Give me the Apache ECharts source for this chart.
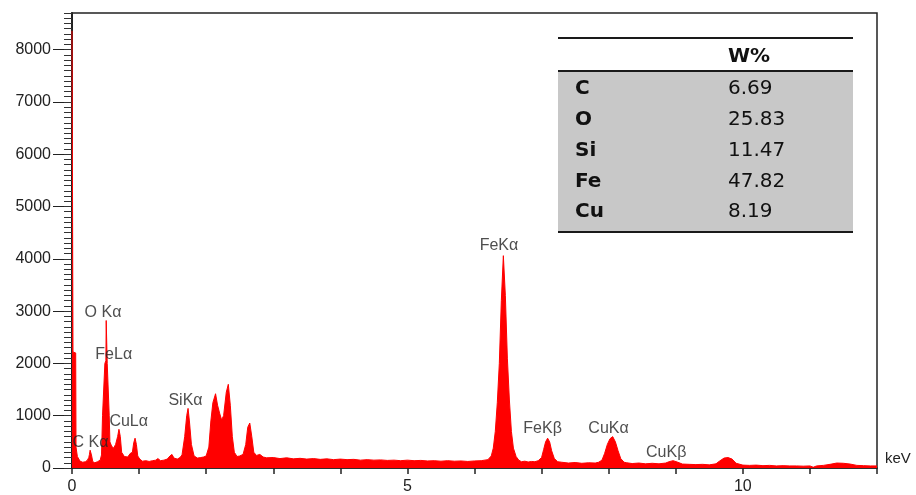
<!DOCTYPE html>
<html><head><meta charset="utf-8">
<script src="https://cdn.jsdelivr.net/npm/echarts@6/dist/echarts.min.js"></script>
<style>html,body{margin:0;padding:0;background:#fff}#c{width:916px;height:495px}</style>
</head><body><div id="c"></div>
<script>
// ---- spectrum (keV, counts) ----
const energy = [
  0.000,0.012,0.015,0.055,0.060,0.080,0.120,0.160,0.200,0.230,0.250,0.260,0.270,0.290,0.310,0.340,0.380,0.420,0.440,
  0.455,0.480,0.490,0.505,0.510,0.520,0.525,0.545,0.555,0.565,0.590,0.620,0.650,0.680,0.700,0.720,0.740,0.780,0.830,
  0.870,0.900,0.920,0.940,0.960,0.980,1.010,1.050,1.100,1.150,1.200,1.250,1.280,1.320,1.370,1.420,1.460,1.490,1.520,
  1.570,1.610,1.640,1.680,1.710,1.730,1.750,1.780,1.820,1.870,1.920,1.960,2.000,2.040,2.070,2.100,2.140,2.170,2.200,
  2.230,2.260,2.300,2.330,2.360,2.390,2.420,2.460,2.500,2.550,2.590,2.620,2.650,2.680,2.710,2.750,2.800,2.850,2.900,
  3.0,3.1,3.2,3.3,3.4,3.5,3.6,3.7,3.8,3.9,4.0,4.1,4.2,4.3,4.4,4.5,4.6,4.7,4.8,4.9,5.0,5.1,5.2,5.3,5.4,5.5,5.6,5.7,5.8,5.9,6.0,6.1,
  6.20,6.25,6.28,6.31,6.34,6.37,6.40,6.43,6.46,6.49,6.52,6.55,6.58,6.62,6.66,6.70,6.75,6.80,6.85,6.90,6.95,
  7.00,7.03,7.06,7.09,7.12,7.15,7.19,7.24,7.30,7.40,7.50,7.60,7.70,7.80,7.85,7.90,7.94,7.98,8.02,8.06,8.10,8.14,8.18,8.23,
  8.27,8.35,8.45,8.55,8.65,8.75,8.85,8.90,8.96,9.02,9.10,9.20,9.30,9.40,9.50,9.60,9.65,9.72,9.78,9.84,9.90,
  10.0,10.1,10.2,10.3,10.4,10.5,10.6,10.7,10.8,10.9,11.0,11.05,11.1,11.2,11.3,11.4,11.5,11.6,11.7,11.8,11.9,12.0
];
const counts = [
  8360,8360,2220,2200,400,220,130,110,120,150,200,260,340,250,120,100,120,150,250,
  1000,1030,2000,2050,2820,2820,2000,1980,1000,500,420,380,450,600,740,600,300,220,210,
  280,300,480,570,450,230,170,130,140,125,140,150,180,140,150,170,230,260,190,
  170,200,250,600,1000,1140,900,450,230,190,200,210,230,400,900,1250,1420,1200,1050,
  920,1000,1450,1600,1200,600,300,220,230,260,450,780,860,600,300,240,260,210,195,
  200,180,195,175,185,170,180,165,175,160,170,160,165,150,160,150,155,145,150,140,150,140,145,135,140,130,140,130,135,125,135,140,
  160,230,380,700,1250,2000,3200,4060,3300,2100,1300,700,380,220,150,120,130,115,125,120,140,
  200,350,500,570,500,330,180,120,110,95,105,90,100,95,110,150,280,450,560,600,500,330,180,110,
  100,85,95,80,90,80,95,120,140,115,75,70,65,70,60,80,130,190,200,170,90,
  55,50,55,45,50,40,45,40,40,35,40,15,40,50,70,95,90,75,50,45,40,40
];

// ---- peak annotations ----
const peakNames  = ['C Kα','O Kα','FeLα','CuLα','SiKα','FeKα','FeKβ','CuKα','CuKβ'];
const peakLabelX = [0.00, 0.18, 0.34, 0.55, 1.43, 6.07, 6.72, 7.69, 8.55];
const peakLabelY = [490, 2980, 2170, 890, 1280, 4250, 755, 755, 300];

// ---- axis ticks ----
const xLabelValues = [0, 5, 10];
const yLabelValues = [0, 1000, 2000, 3000, 4000, 5000, 6000, 7000, 8000];

// ---- composition table ----
const tableHeader = 'W%';
const tableElements = ['C', 'O', 'Si', 'Fe', 'Cu'];
const tableValues = ['6.69', '25.83', '11.47', '47.82', '8.19'];

const spectrum = energy.map((e, i) => [e, counts[i]]);
const annotations = peakNames.map((n, i) => ({ name: n, value: [peakLabelX[i], peakLabelY[i]] }));

const FONT = '"Liberation Sans", Arial, sans-serif';
const TFONT = '"DejaVu Sans", sans-serif';

const graphics = [
  { type: 'rect', shape: { x: 558, y: 71, width: 295, height: 161 }, style: { fill: '#c8c8c8' }, z: 10 },
  { type: 'line', shape: { x1: 558, y1: 38, x2: 853, y2: 38 }, style: { stroke: '#1a1a1a', lineWidth: 2 }, z: 11 },
  { type: 'line', shape: { x1: 558, y1: 71, x2: 853, y2: 71 }, style: { stroke: '#1a1a1a', lineWidth: 2 }, z: 11 },
  { type: 'line', shape: { x1: 558, y1: 232, x2: 853, y2: 232 }, style: { stroke: '#1a1a1a', lineWidth: 2 }, z: 11 },
  { type: 'text', x: 728, y: 57, style: { text: tableHeader, font: 'bold 20px ' + TFONT, fill: '#111', textVerticalAlign: 'middle' }, z: 12 }
];
tableElements.forEach((el, i) => {
  const y = 89 + i * 30.8;
  graphics.push({ type: 'text', x: 575, y: y, style: { text: el, font: 'bold 20px ' + TFONT, fill: '#111', textVerticalAlign: 'middle' }, z: 12 });
  graphics.push({ type: 'text', x: 728, y: y, style: { text: tableValues[i], font: '20px ' + TFONT, fill: '#111', textVerticalAlign: 'middle' }, z: 12 });
});

const chart = echarts.init(document.getElementById('c'), null, { renderer: 'canvas' });
chart.setOption({
  animation: false,
  backgroundColor: '#ffffff',
  grid: { left: 72, right: 39, top: 13, bottom: 22, show: true, borderColor: '#222', borderWidth: 1.5, backgroundColor: 'transparent' },
  xAxis: {
    type: 'value', min: 0, max: 12, interval: 1,
    name: 'keV', nameLocation: 'end', nameGap: 8,
    nameTextStyle: { fontFamily: FONT, fontSize: 15, color: '#222', verticalAlign: 'bottom', padding: [0, 0, 2, 0] },
    axisLine: { show: true, onZero: false, lineStyle: { color: '#222', width: 1.5 } },
    axisTick: { show: true, length: 6, lineStyle: { color: '#222', width: 1.5 } },
    axisLabel: { show: true, margin: 11, fontSize: 16, fontFamily: FONT, color: '#222',
      customValues: xLabelValues,
      formatter: v => (xLabelValues.indexOf(v) >= 0 ? String(v) : '') },
    splitLine: { show: false }
  },
  yAxis: [
    {
      type: 'value', min: 0, max: 8700, interval: 1000, position: 'left',
      axisLine: { show: true, lineStyle: { color: '#222', width: 2 } },
      axisTick: { show: true, length: 19, customValues: yLabelValues, lineStyle: { color: '#222', width: 1 } },
      axisLabel: { show: true, margin: 21, fontSize: 16, fontFamily: FONT, color: '#222',
        customValues: yLabelValues,
        formatter: v => (yLabelValues.indexOf(v) >= 0 ? String(v) : '') },
      splitLine: { show: false }
    },
    {
      type: 'value', min: 0, max: 8700, interval: 100, position: 'left',
      axisLine: { show: false },
      axisTick: { show: true, length: 8, lineStyle: { color: '#333', width: 1 } },
      axisLabel: { show: false },
      splitLine: { show: false }
    }
  ],
  series: [
    {
      type: 'line', data: spectrum, xAxisIndex: 0, yAxisIndex: 0,
      showSymbol: false, symbol: 'none',
      lineStyle: { color: '#ff0000', width: 1 },
      areaStyle: { color: '#ff0000', opacity: 1 },
      z: 3
    },
    {
      type: 'scatter', data: annotations, xAxisIndex: 0, yAxisIndex: 0,
      symbolSize: 1, itemStyle: { color: 'rgba(0,0,0,0)' }, clip: false,
      label: { show: true, position: 'right', distance: 0, formatter: p => p.name,
        fontFamily: FONT, fontSize: 16, color: '#222' },
      z: 5
    }
  ],
  graphic: graphics
});
</script>
</body></html>
